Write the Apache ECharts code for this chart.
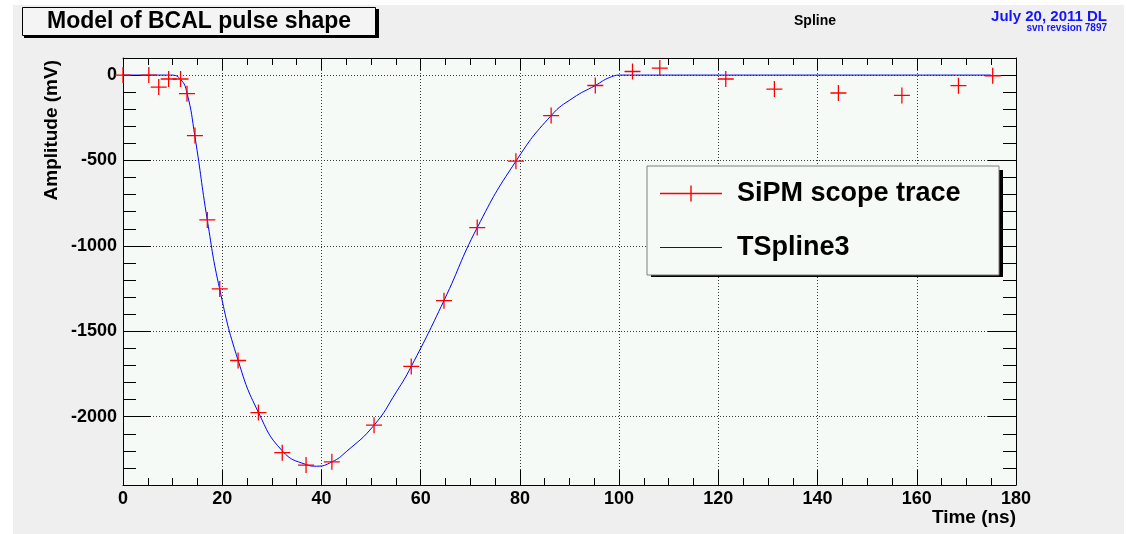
<!DOCTYPE html>
<html>
<head>
<meta charset="utf-8">
<script src="https://cdn.jsdelivr.net/npm/echarts@6/dist/echarts.min.js"></script>
<style>
  html, body { margin: 0; padding: 0; background: #ffffff; }
  #panel { position: absolute; left: 13px; top: 5px; width: 1111px; height: 529px; background: #efefef; }
  #chart { position: absolute; left: 0; top: 0; width: 1127px; height: 534px; }
</style>
</head>
<body>
<div id="panel"></div>
<div id="chart"></div>
<script>
// ---- data ----
const timeNs = [0, 5.2, 7.2, 9.2, 11.6, 12.9, 14.5, 17.0, 19.5, 23.2, 27.3, 32.1, 36.9, 42.1, 50.6, 58.1, 64.7, 71.4, 79.2, 86.3, 95.2, 102.7, 108.2, 121.5, 131.3, 144.2, 157.0, 168.4, 175.3];
const amplitudeMv = [0, 0, -70, -23, -23, -109, -354, -848, -1252, -1671, -1976, -2211, -2283, -2264, -2050, -1706, -1321, -893, -504, -237, -61, 21, 41, -23, -82, -105, -119, -62, -4];

const splineT = [0, 9.6, 11.6, 12.9, 14.5, 17.0, 19.5, 23.2, 27.3, 32.1, 36.9, 39.0, 42.1, 45.0, 50.6, 55.1, 58.1, 64.7, 71.4, 79.2, 86.3, 90.7, 95.2, 98.1, 100.5, 110, 175];
const splineA = [0, 0, -25, -105, -360, -850, -1255, -1670, -1975, -2200, -2280, -2290, -2265, -2205, -2050, -1855, -1706, -1320, -893, -504, -237, -134, -61, -14, 0, 0, 0];

const seriesNames = ['SiPM scope trace', 'TSpline3'];
const chartTitle = 'Model of BCAL pulse shape';
const xName = 'Time (ns)';
const yName = 'Amplitude (mV)';
const xRange = [0, 180];
const yRange = [-2400, 100];

// ---- chart ----
const FONT = '"Liberation Sans", Arial, Helvetica, sans-serif';
const PLOT_BG = '#f6faf7';
const RED = '#ff0000';
const BLUE = '#0000ff';
const crossPath = 'path://M0,13.8H30V16.2H0Z M13.8,0H16.2V30H13.8Z';
const legendCross = 'path://M0,7.3H62V8.7H0Z M30.3,0H31.7V16H30.3Z';
const legendLine = 'path://M0,0H0.02V0.02H0Z M0,7.4H62V8.6H0Z M61.98,15.98H62V16H61.98Z';

const scatterData = timeNs.map((t, i) => [t, amplitudeMv[i]]);
const splineData = splineT.map((t, i) => [t, splineA[i]]);

// legend box geometry (style): make it 352 px wide whatever the font metrics
const LEGEND_FONT_SIZE = 27;
const measure = document.createElement('canvas').getContext('2d');
measure.font = 'bold ' + LEGEND_FONT_SIZE + 'px ' + FONT;
const legendTextW = Math.max(...seriesNames.map(s => measure.measureText(s).width));
const legendPadRight = Math.max(4, 352 - 13 - 62 - 15 - legendTextW);

const gridLine = { show: true, lineStyle: { color: '#3a3a3a', type: [1, 2], width: 1 } };
const blackLine = { color: '#000', width: 1 };
const plainNum = v => String(v);
const GRID_RECT = { left: 123, top: 58, width: 893, height: 427, containLabel: false, outerBoundsMode: 'none' };

const chart = echarts.init(document.getElementById('chart'), null, { renderer: 'canvas' });
chart.setOption({
  backgroundColor: 'transparent',
  animation: false,
  textStyle: { fontFamily: FONT },
  graphic: [
    { type: 'rect', z: 5, silent: true, shape: { x: 24, y: 9, width: 355, height: 29 }, style: { fill: '#000' } },
    { type: 'rect', z: 3, silent: true, shape: { x: 651, y: 170, width: 352, height: 107 }, style: { fill: '#000' } }
  ],
  title: [
    {
      text: chartTitle, left: 22, top: 7, z: 6,
      padding: [2, 25, 2, 25],
      backgroundColor: '#f4f4f4', borderColor: '#000', borderWidth: 1,
      textStyle: { fontFamily: FONT, fontSize: 23, fontWeight: 'bold', color: '#000', lineHeight: 25 }
    },
    {
      text: 'Spline', left: 794, top: 13, padding: 0,
      textStyle: { fontFamily: FONT, fontSize: 14, fontWeight: 'bold', color: '#000', lineHeight: 16 }
    },
    {
      text: 'July 20, 2011 DL', right: 20, top: 8, padding: 0,
      textStyle: { fontFamily: FONT, fontSize: 15, fontWeight: 'bold', color: '#1414ff', lineHeight: 17 }
    },
    {
      text: 'svn revsion 7897', right: 20, top: 23, padding: 0,
      textStyle: { fontFamily: FONT, fontSize: 10, fontWeight: 'bold', color: '#1414ff', lineHeight: 11 }
    }
  ],
  legend: {
    orient: 'vertical', left: 647, top: 166, z: 4,
    itemWidth: 62, itemHeight: 16, itemGap: 27,
    padding: [14, legendPadRight, 14, 13],
    backgroundColor: PLOT_BG, borderColor: '#7f7f7f', borderWidth: 1,
    itemStyle: { borderWidth: 0, opacity: 1 },
    textStyle: { fontFamily: FONT, fontSize: LEGEND_FONT_SIZE, fontWeight: 'bold', color: '#000', lineHeight: 26, padding: [0, 0, 0, 10] },
    data: [
      { name: seriesNames[0], icon: legendCross, itemStyle: { color: RED, borderWidth: 0, opacity: 1 } },
      { name: seriesNames[1], icon: legendLine, itemStyle: { color: BLUE, borderColor: BLUE, borderWidth: 0, opacity: 1 } }
    ]
  },
  grid: [
    Object.assign({ show: true, backgroundColor: PLOT_BG, borderWidth: 0 }, GRID_RECT),
    Object.assign({ show: false }, GRID_RECT)
  ],
  xAxis: [
    {
      gridIndex: 0, type: 'value', position: 'bottom', offset: 0, min: xRange[0], max: xRange[1], interval: 20,
      axisLine: { show: true, onZero: false, lineStyle: blackLine },
      axisTick: { show: true, inside: true, length: 15, lineStyle: blackLine },
      minorTick: { show: true, splitNumber: 4, length: 7, lineStyle: blackLine },
      axisLabel: { show: true, margin: 5, formatter: plainNum, fontFamily: FONT, fontSize: 18, fontWeight: 'bold', color: '#000', showMinLabel: true, showMaxLabel: true },
      splitLine: gridLine,
      name: xName, nameLocation: 'end', nameGap: 0, nameMoveOverlap: false,
      nameTextStyle: { fontFamily: FONT, fontSize: 19, fontWeight: 'bold', color: '#000', align: 'right', verticalAlign: 'top', lineHeight: 21, padding: [22, 0, 0, 0] }
    },
    {
      gridIndex: 0, type: 'value', position: 'top', offset: 0, min: xRange[0], max: xRange[1], interval: 20,
      axisLine: { show: true, onZero: false, lineStyle: blackLine },
      axisTick: { show: true, inside: true, length: 12, lineStyle: blackLine },
      minorTick: { show: true, splitNumber: 4, length: 7, lineStyle: blackLine },
      axisLabel: { show: false },
      splitLine: { show: false }
    },
    {
      gridIndex: 1, type: 'value', position: 'bottom', offset: 0, min: xRange[0], max: xRange[1], interval: 20,
      show: false
    }
  ],
  yAxis: [
    {
      gridIndex: 0, type: 'value', position: 'left', offset: 0, min: yRange[0], max: yRange[1], splitNumber: 5,
      axisLine: { show: true, onZero: false, lineStyle: blackLine },
      axisTick: { show: true, inside: true, length: 28, lineStyle: blackLine },
      axisLabel: { show: true, margin: 6, formatter: plainNum, fontFamily: FONT, fontSize: 18, fontWeight: 'bold', color: '#000', showMinLabel: false, showMaxLabel: false },
      splitLine: gridLine,
      name: yName, nameLocation: 'end', nameGap: -2, nameRotate: 90, nameMoveOverlap: false,
      nameTextStyle: { fontFamily: FONT, fontSize: 19, fontWeight: 'bold', color: '#000', align: 'right', verticalAlign: 'bottom', lineHeight: 21, padding: [0, 0, 61, 0] }
    },
    {
      gridIndex: 0, type: 'value', position: 'right', offset: 0, min: yRange[0], max: yRange[1], splitNumber: 5,
      axisLine: { show: true, onZero: false, lineStyle: blackLine },
      axisTick: { show: true, inside: true, length: 28, lineStyle: blackLine },
      axisLabel: { show: false },
      splitLine: { show: false }
    },
    {
      gridIndex: 1, type: 'value', position: 'left', offset: 0, min: yRange[0], max: yRange[1], interval: 100,
      axisLine: { show: false },
      axisTick: { show: true, inside: true, length: 13, lineStyle: blackLine },
      axisLabel: { show: false },
      splitLine: { show: false }
    },
    {
      gridIndex: 1, type: 'value', position: 'right', offset: 0, min: yRange[0], max: yRange[1], interval: 100,
      axisLine: { show: false },
      axisTick: { show: true, inside: true, length: 13, lineStyle: blackLine },
      axisLabel: { show: false },
      splitLine: { show: false }
    }
  ],
  series: [
    {
      name: seriesNames[1], type: 'line', xAxisIndex: 0, yAxisIndex: 0,
      data: splineData, smooth: true, symbol: 'none', showSymbol: false,
      lineStyle: { color: BLUE, width: 1 }, itemStyle: { color: BLUE },
      z: 3
    },
    {
      name: seriesNames[0], type: 'scatter', xAxisIndex: 0, yAxisIndex: 0,
      data: scatterData, symbol: crossPath, symbolSize: 16,
      itemStyle: { color: RED, opacity: 1 },
      clip: false, z: 4
    }
  ]
});
</script>
</body>
</html>
